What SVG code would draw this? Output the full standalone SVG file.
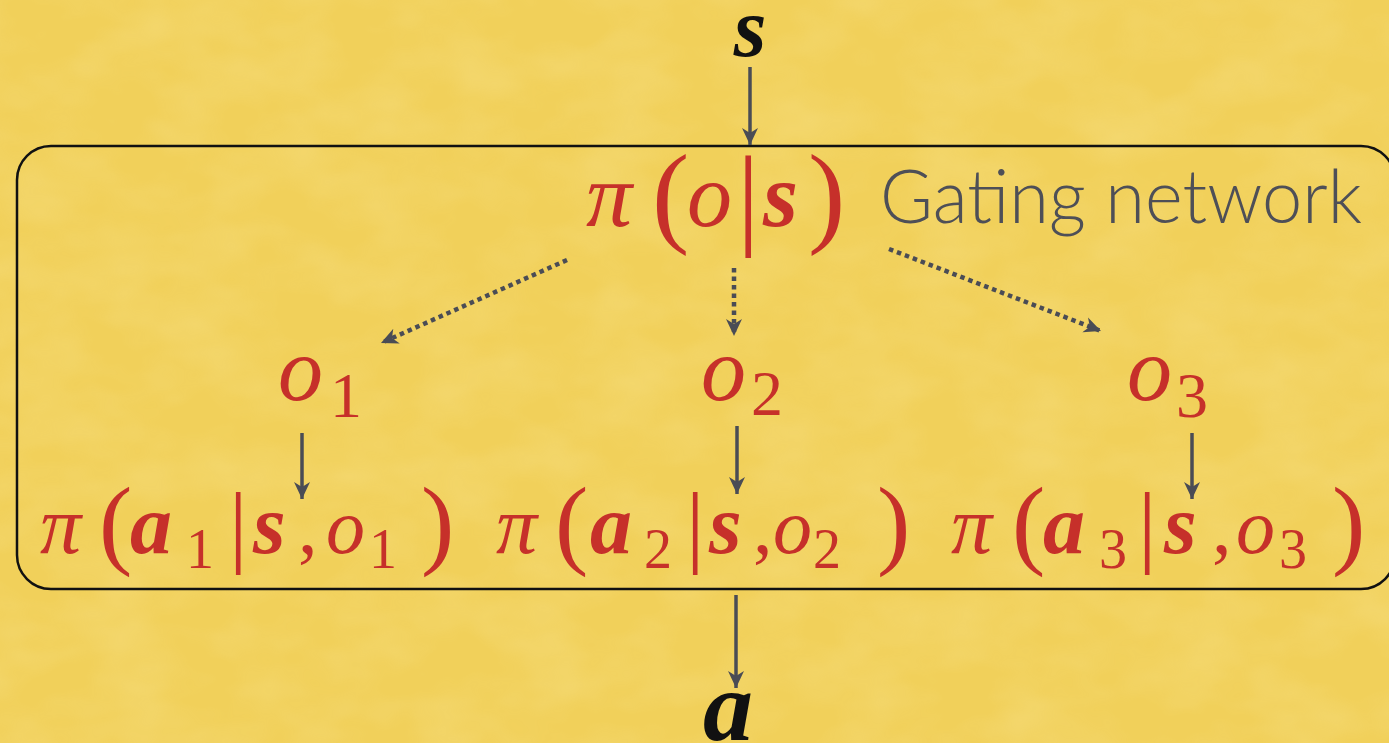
<svg xmlns="http://www.w3.org/2000/svg" width="1389" height="743" viewBox="0 0 1389 743">
  <style>
    .m { fill: #c6302a; }
    .k { fill: #111111; }
    .solid { stroke: #4a4c55; stroke-width: 3.5; fill: none; }
    .dot { stroke: #4a4c55; stroke-width: 4.5; fill: none; stroke-dasharray: 4.5 4; }
  </style>
  <defs>
    <marker id="ah" markerUnits="userSpaceOnUse" markerWidth="20" markerHeight="20" viewBox="0 0 20 20" refX="17" refY="10" orient="auto">
      <path d="M0,2 L17,10 L0,18 L5,10 z" fill="#4a4c55"/>
    </marker>
    <filter id="paper" x="0" y="0" width="100%" height="100%">
      <feTurbulence type="fractalNoise" baseFrequency="0.012 0.02" numOctaves="3" seed="4" result="n"/>
      <feColorMatrix in="n" type="matrix" values="0 0 0 0 1  0 0 0 0 0.93  0 0 0 0 0.55  0 0 0 0.9 -0.3" result="c"/>
      <feComposite in="c" in2="SourceGraphic" operator="in"/>
    </filter>
  </defs>

  <rect x="0" y="0" width="1389" height="743" fill="#f1d05a"/>
  <rect x="0" y="0" width="1389" height="743" fill="#ffffff" filter="url(#paper)" opacity="0.35"/>

  <g id="box">
    <rect x="17" y="146" width="1378" height="443" rx="34" ry="34" fill="none" stroke="#111111" stroke-width="2.5"/>
  </g>

  <g id="connectors">
    <line class="solid" x1="750" y1="67" x2="750" y2="145" marker-end="url(#ah)"/>
    <line class="dot" x1="567" y1="260" x2="381" y2="343" marker-end="url(#ah)"/>
    <line class="dot" x1="734" y1="268" x2="734" y2="336" marker-end="url(#ah)"/>
    <line class="dot" x1="889" y1="249" x2="1101" y2="331" marker-end="url(#ah)"/>
    <line class="solid" x1="302" y1="433" x2="302" y2="499" marker-end="url(#ah)"/>
    <line class="solid" x1="737" y1="426" x2="737" y2="494" marker-end="url(#ah)"/>
    <line class="solid" x1="1192" y1="433" x2="1192" y2="499" marker-end="url(#ah)"/>
    <line class="solid" x1="736" y1="595" x2="736" y2="688" marker-end="url(#ah)"/>
  </g>

  <g id="node-s">
    <text class="k" font-family="Liberation Serif" font-weight="bold" font-style="italic" x="750" y="56" font-size="84" text-anchor="middle">s</text>
  </g>

  <g id="node-gating">
    <text class="m" font-family="Liberation Serif" y="226">
      <tspan font-style="italic" x="586" font-size="92">π</tspan>
      <tspan x="652" font-size="112" dy="6">(</tspan>
      <tspan font-style="italic" x="687" font-size="90" dy="-6">o</tspan>
      <tspan x="737" font-size="112" dy="8">|</tspan>
      <tspan font-style="italic" font-weight="bold" x="763" font-size="90" dy="-8">s</tspan>
      <tspan x="808" font-size="112" dy="6">)</tspan>
    </text>
    <text font-family="Lato" font-weight="300" fill="#4e4f57" x="880" y="223" font-size="74" textLength="482" lengthAdjust="spacingAndGlyphs">Gating network</text>
  </g>

  <g id="node-o1">
    <text class="m" font-family="Liberation Serif" y="400"><tspan font-style="italic" x="278" font-size="90">o</tspan><tspan x="330" y="417" font-size="64">1</tspan></text>
  </g>
  <g id="node-o2">
    <text class="m" font-family="Liberation Serif" y="400"><tspan font-style="italic" x="701" font-size="90">o</tspan><tspan x="751" y="415" font-size="64">2</tspan></text>
  </g>
  <g id="node-o3">
    <text class="m" font-family="Liberation Serif" y="400"><tspan font-style="italic" x="1127" font-size="90">o</tspan><tspan x="1176" y="417" font-size="64">3</tspan></text>
  </g>

  <g id="node-pi1">
    <text class="m" font-family="Liberation Serif" y="553">
      <tspan font-style="italic" x="40" font-size="82">π</tspan>
      <tspan x="99" y="556" font-size="100">(</tspan>
      <tspan font-style="italic" font-weight="bold" x="130" y="553" font-size="84">a</tspan>
      <tspan x="186" y="568" font-size="56">1</tspan>
      <tspan x="229" y="556" font-size="92">|</tspan>
      <tspan font-style="italic" font-weight="bold" x="253" y="553" font-size="84">s</tspan>
      <tspan x="298" font-size="78">,</tspan>
      <tspan font-style="italic" x="326" font-size="78">o</tspan>
      <tspan x="369" y="568" font-size="56">1</tspan>
      <tspan x="421" y="556" font-size="100">)</tspan>
    </text>
  </g>
  <g id="node-pi2">
    <text class="m" font-family="Liberation Serif" y="553">
      <tspan font-style="italic" x="496" font-size="82">π</tspan>
      <tspan x="555" y="556" font-size="100">(</tspan>
      <tspan font-style="italic" font-weight="bold" x="590" y="553" font-size="84">a</tspan>
      <tspan x="644" y="568" font-size="56">2</tspan>
      <tspan x="686" y="556" font-size="92">|</tspan>
      <tspan font-style="italic" font-weight="bold" x="709" y="553" font-size="84">s</tspan>
      <tspan x="753" font-size="78">,</tspan>
      <tspan font-style="italic" x="773" font-size="78">o</tspan>
      <tspan x="813" y="568" font-size="56">2</tspan>
      <tspan x="877" y="556" font-size="100">)</tspan>
    </text>
  </g>
  <g id="node-pi3">
    <text class="m" font-family="Liberation Serif" y="553">
      <tspan font-style="italic" x="951" font-size="82">π</tspan>
      <tspan x="1012" y="556" font-size="100">(</tspan>
      <tspan font-style="italic" font-weight="bold" x="1043" y="553" font-size="84">a</tspan>
      <tspan x="1099" y="568" font-size="56">3</tspan>
      <tspan x="1138" y="556" font-size="92">|</tspan>
      <tspan font-style="italic" font-weight="bold" x="1164" y="553" font-size="84">s</tspan>
      <tspan x="1212" font-size="78">,</tspan>
      <tspan font-style="italic" x="1236" font-size="78">o</tspan>
      <tspan x="1279" y="568" font-size="56">3</tspan>
      <tspan x="1332" y="556" font-size="100">)</tspan>
    </text>
  </g>

  <g id="node-a">
    <text class="k" font-family="Liberation Serif" font-weight="bold" font-style="italic" x="728" y="740" font-size="100" text-anchor="middle">a</text>
  </g>
</svg>
